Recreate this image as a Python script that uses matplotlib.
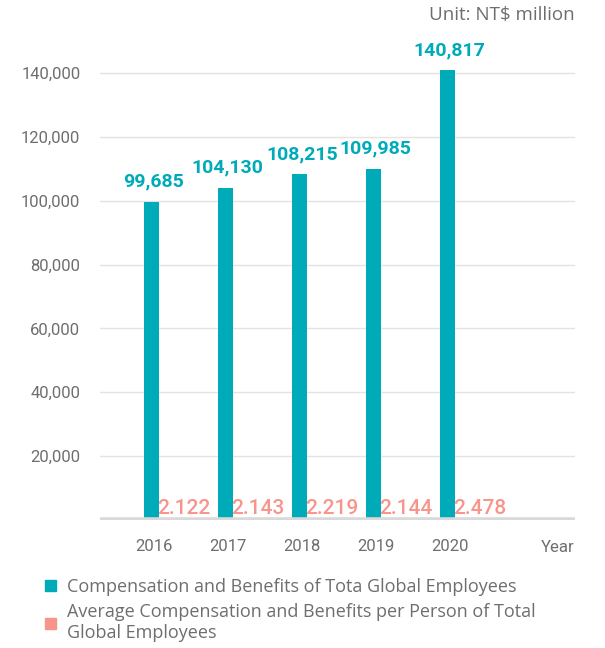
import numpy as np
import matplotlib.pyplot as plt
from matplotlib.patches import Patch

years = ["2016", "2017", "2018", "2019", "2020"]
total_comp = [99685, 104130, 108215, 109985, 140817]
avg_comp = [2.122, 2.143, 2.219, 2.144, 2.478]
total_labels = ["99,685", "104,130", "108,215", "109,985", "140,817"]
avg_labels = ["2.122", "2.143", "2.219", "2.144", "2.478"]
yticks = [20000, 40000, 60000, 80000, 100000, 120000, 140000]

teal = "#00abb9"
pink = "#f9948b"
gray_txt = "#6e6e6e"

plt.rcParams["font.family"] = ["Roboto", "DejaVu Sans"]

fig = plt.figure(figsize=(6.05, 6.48), dpi=100)
ax = fig.add_axes([0.165, 0.1975, 0.785, 0.7145])

x = np.arange(len(years))
w = 0.2
ax.bar(x, total_comp, width=w, color=teal, zorder=3)
# per-person values are tiny on this scale: draw with an edge so they show as a thin line
ax.bar(x + w, avg_comp, width=w, color=pink, edgecolor=pink, linewidth=1.5, zorder=3)

for xi, v, lab in zip(x, total_comp, total_labels):
    ax.text(xi + 0.03, v + 3500, lab, ha="center", va="bottom", color=teal,
            fontsize=14, fontweight="bold")
for xi, lab in zip(x, avg_labels):
    ax.text(xi + w / 2 - 0.02, 500, lab, ha="left", va="bottom", color=pink,
            fontsize=15, fontweight="medium")

ax.set_xlim(-0.70, 5.72)
ax.set_ylim(0, 145000)
ax.set_yticks(yticks)
ax.set_yticklabels([f"{t:,}" for t in yticks])
ax.set_xticks(x + 0.03)
ax.set_xticklabels(years)
ax.tick_params(axis="both", length=0, colors=gray_txt, labelsize=12)
ax.tick_params(axis="x", pad=14)
ax.tick_params(axis="y", pad=14)

ax.grid(axis="y", color="#e3e3e3", linewidth=1, zorder=0)
for s in ax.spines.values():
    s.set_visible(False)
ax.axhline(0, color="#d9d9d9", linewidth=4, zorder=4)

ax.text(5.49, -0.06, "Year", transform=ax.get_xaxis_transform(), ha="center",
        va="center", color=gray_txt, fontsize=12)

fig.text(575 / 605, 1 - 15 / 648, "Unit: NT$ million", ha="right", va="center",
         color=gray_txt, fontsize=13.5, family=["Open Sans", "DejaVu Sans"])

handles = [Patch(color=teal), Patch(color=pink)]
labels = ["Compensation and Benefits of Tota Global Employees",
          "Average Compensation and Benefits per Person of Total\nGlobal Employees"]
fig.legend(handles, labels, loc="upper left", bbox_to_anchor=(29 / 605, 1 - 562 / 648),
           frameon=False, handlelength=0.57, handleheight=0.57, handletextpad=0.65,
           labelspacing=0.4, prop={"family": ["Open Sans", "DejaVu Sans"], "size": 13},
           labelcolor=gray_txt)

fig.savefig("out.png", dpi=100)
